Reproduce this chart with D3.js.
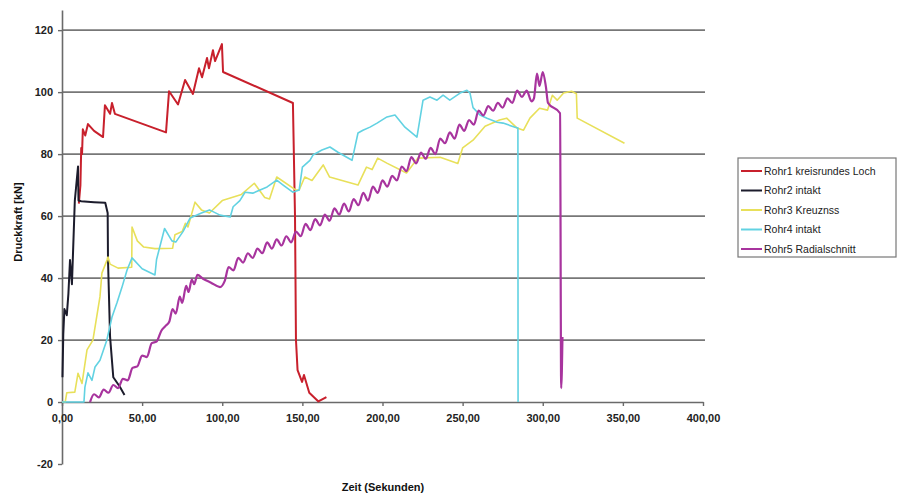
<!DOCTYPE html>
<html>
<head>
<meta charset="utf-8">
<script src="https://cdn.jsdelivr.net/npm/d3@7"></script>
<style>
body { margin: 0; background: #fff; }
text { font-family: "Liberation Sans", Arial, sans-serif; }
</style>
</head>
<body>
<script>
// Datos: [tiempo (s), fuerza (kN)]
var rohr1 = [[10.5,64],[11.5,70],[12,82],[12.5,80],[13,88],[14.5,86],[16.2,89.7],[20,87.5],[25.6,85.5],
  [26.8,95.8],[30,93],[31.2,96.5],[33,93],[64.9,87],[66.8,100.3],[72.4,96],[76.8,103.9],[81.7,99.4],[85.5,107.7],
  [87.4,104.8],[90.5,111],[91.7,107.7],[94.2,113.5],[95.5,110],[99.8,115.5],[100.5,106.5],[144.1,96.5],[145.4,60],
  [146,20],[147,10.3],[149.8,6.5],[151,8.7],[154.3,3],[160,0.2],[165,1.6]];

var rohr2 = [[0.3,8],[0.8,22],[1.5,30],[3,28],[4,35],[5,45.8],[6.2,38],[8,65],[10,76],[10.3,65],[12,64.8],
  [20,64.5],[27,64.3],[28.5,61],[28.7,46],[30,21],[32,8],[36,5],[39,2.3]];

var rohr3 = [[0,0],[2,0],[3,3],[8,3.2],[10,9.3],[12.5,6],[15.6,16.8],[19.3,20],[23.7,34],[24.9,41.6],[28.1,45.8],
  [28.7,46.8],[30,44.5],[35,43.2],[43.5,43.5],[43.7,56.5],[47,52],[51,50],[58,49.5],[69,49.6],[70.5,54],[75,55],
  [77,57.7],[78.6,56.5],[83,64.5],[87,62],[92,61],[100,65],[112,67],[120,70.6],[126.5,66],[129.5,65.5],[134,72.6],
  [146,68.4],[148,68.4],[151.5,72.6],[156,71.5],[163,76.5],[167,72.6],[184.7,70],[190,75.8],[193.5,75],[197,78.7],
  [203,77],[215,73.9],[222,78.7],[236,79],[247,77],[250,82],[256.5,84.5],[264,89],[273,91],[277.5,91.6],[284,88.4],
  [288,87.7],[292,91.6],[298,94.8],[303,94.2],[306,99],[309,97.4],[313,99.7],[318,100.3],[321,99.5],[321.5,91.6],
  [351,83.5]];

var rohr4 = [[0,0],[13.7,0],[14.3,4.8],[16.2,9.4],[18.7,7],[20.6,11.3],[23.7,13.5],[28,20],[31.2,27.4],[34.3,32],
  [37.4,37],[40.6,42.6],[43.7,46.5],[50,43],[58,41],[59,46],[64,56],[68.6,52],[71,51.6],[75.5,55],[80,59.4],
  [87,61],[92,62],[98.6,60.3],[105,59.7],[106.8,63],[111,65],[114.2,67.7],[119,67.4],[123.6,68.4],[128,69.4],
  [134,71.6],[138,70],[144,67.7],[148,68.4],[150,75.8],[154.7,78],[156.6,79.7],[162.2,81.3],[167.2,82.3],
  [172.2,80.6],[181,78],[184.7,86.8],[187.8,87.7],[192.2,88.7],[196.6,90],[202.8,92],[207.8,92.6],[214,88.7],
  [221.5,85.5],[225.3,97.4],[229.6,98.4],[234,97.4],[237.8,99],[242,97.4],[248.4,99.7],[252.7,100.6],[254.6,99.7],
  [256.5,95],[260.8,92.6],[265.2,91.6],[271.5,90.3],[275.2,90],[282.7,88.7],[284.5,88.4],[284.6,0]];

var rohr5 = [[17.5,0],[20,2.5],[23,1.5],[26,4],[29,3],[32,5.5],[35,4.5],[38,7.5],[41,7],[44,11],[47,11.5],[50,15],
  [53,14.5],[56,19],[59,19.5],[62,23],[64.5,24.5],[67,26],[69,30],[71,28.5],[73.5,34],[75,32],[77.5,37.5],[79,35.5],
  [81,39.5],[82.5,38],[84.5,41],[88,39.8],[93,38.5],[98.6,37.1],[101.5,39],[104,43.5],[107,42.5],[110,46.5],
  [113,45],[116,48],[119,46.5],[122,49.5],[125,48],[128,51.5],[131,49.5],[134,52.5],[137,50.5],[140,53.5],
  [143,51.5],[146,55],[149,53.5],[152,57.5],[155,55.5],[158,59],[161,57],[164,60.5],[167,58.5],[170,62.5],
  [173,60.5],[176,64],[179,61.5],[182,65.5],[185,63.5],[188,67.5],[191,65],[194,69.5],[197,67.5],[200,71.5],
  [203,69.5],[206,73],[209,71.5],[212,76],[215,74.5],[218,79],[221,77],[224,80.5],[227,78.5],[230,82],[233,80],
  [236,85],[239,83.5],[242,87],[245,85],[248,89.5],[251,87.5],[254,91],[257,89.5],[260,94],[263,92.5],[266,95.5],
  [269,94],[272,96.5],[275,95],[278,98],[281,96.5],[284,100.5],[287,98.5],[290,100.5],[293,97],[294.5,98],
  [296.4,106],[298,102],[300,106.5],[302,101.6],[303.3,96.5],[310.8,93.2],[311.5,4.5],[312.3,21]];

var nombres = ["Rohr1 kreisrundes Loch", "Rohr2 intakt", "Rohr3 Kreuznss", "Rohr4 intakt", "Rohr5 Radialschnitt"];
var colores = ["#c8202c", "#1c1c2c", "#e8e05a", "#62d2e2", "#a8349e"];
var grosores = [2, 2, 1.6, 1.6, 2.2];
var series = [rohr1, rohr2, rohr3, rohr4, rohr5];

var yTicks = [-20, 0, 20, 40, 60, 80, 100, 120];
var yGridTicks = [20, 40, 60, 80, 100, 120];
var xTicks = [0, 50, 100, 150, 200, 250, 300, 350, 400];

var W = 905, H = 494;

var svg = d3.select("body").append("svg")
  .attr("width", W)
  .attr("height", H);

// Escalas
var x = d3.scaleLinear().domain([0, 400]).range([62, 703]);
var y = d3.scaleLinear().domain([-20, 126.5]).range([464, 10]);

var fmt = function(d) { return d3.format(".2f")(d).replace(".", ","); };

// Lineas guia horizontales
svg.append("g")
  .attr("class", "grid")
  .selectAll("line")
  .data(yGridTicks)
  .enter().append("line")
  .attr("x1", x(0))
  .attr("x2", x(400) + 2)
  .attr("y1", function(d) { return y(d); })
  .attr("y2", function(d) { return y(d); })
  .attr("stroke", "#777")
  .attr("stroke-width", 1.7);

// Eje Y
var yAxis = d3.axisLeft(y)
  .tickValues(yTicks)
  .tickSize(4)
  .tickSizeOuter(0)
  .tickFormat(function(d) { return String(d); });

var gy = svg.append("g")
  .attr("transform", "translate(" + x(0) + ",0)")
  .call(yAxis);
gy.select(".domain").attr("stroke", "#6a6a6a").attr("stroke-width", 1.6);
gy.selectAll(".tick line").attr("stroke", "#6a6a6a").attr("stroke-width", 1.4);
gy.selectAll(".tick text")
  .attr("x", -9)
  .attr("fill", "#222")
  .style("font-size", "11px")
  .style("font-weight", "bold");

// Eje X en la linea del cero
var xAxis = d3.axisBottom(x)
  .tickValues(xTicks)
  .tickSize(4)
  .tickSizeOuter(0)
  .tickFormat(fmt);

var gx = svg.append("g")
  .attr("transform", "translate(0," + y(0) + ")")
  .call(xAxis);
gx.select(".domain").attr("stroke", "#6a6a6a").attr("stroke-width", 1.6);
gx.selectAll(".tick line").attr("stroke", "#6a6a6a").attr("stroke-width", 1.4);
gx.selectAll(".tick text")
  .attr("y", 12)
  .attr("fill", "#222")
  .style("font-size", "11px")
  .style("font-weight", "bold");

// Curvas (la de Rohr5 algo suavizada, como en el original)
var linea = d3.line()
  .x(function(d) { return x(d[0]); })
  .y(function(d) { return y(d[1]); });

var lineaSuave = d3.line()
  .curve(d3.curveMonotoneX)
  .x(function(d) { return x(d[0]); })
  .y(function(d) { return y(d[1]); });

svg.append("g")
  .attr("class", "curvas")
  .selectAll("path")
  .data(series)
  .enter().append("path")
  .attr("d", function(d, i) { return i == 4 ? lineaSuave(d) : linea(d); })
  .attr("fill", "none")
  .attr("stroke", function(d, i) { return colores[i]; })
  .attr("stroke-width", function(d, i) { return grosores[i]; })
  .attr("stroke-linejoin", "round");

// Titulos de los ejes
svg.append("text")
  .attr("transform", "translate(22," + 222 + ") rotate(-90)")
  .attr("text-anchor", "middle")
  .attr("fill", "#111")
  .style("font-size", "11px")
  .style("font-weight", "bold")
  .text("Druckkraft [kN]");

svg.append("text")
  .attr("x", 383)
  .attr("y", 491)
  .attr("text-anchor", "middle")
  .attr("fill", "#111")
  .style("font-size", "11px")
  .style("font-weight", "bold")
  .text("Zeit (Sekunden)");

// Leyenda
var leyenda = svg.append("g")
  .attr("transform", "translate(738,158)");

leyenda.append("rect")
  .attr("width", 158)
  .attr("height", 99)
  .attr("fill", "#fff")
  .attr("stroke", "#777")
  .attr("stroke-width", 1.2);

var item = leyenda.selectAll(".item")
  .data(nombres)
  .enter().append("g")
  .attr("class", "item")
  .attr("transform", function(d, i) { return "translate(0," + (13 + i * 19.5) + ")"; });

item.append("line")
  .attr("x1", 3)
  .attr("x2", 24)
  .attr("stroke", function(d, i) { return colores[i]; })
  .attr("stroke-width", 2);

item.append("text")
  .attr("x", 26)
  .attr("dy", "0.35em")
  .attr("fill", "#222")
  .style("font-size", "10.5px")
  .text(function(d) { return d; });
</script>
</body>
</html>
